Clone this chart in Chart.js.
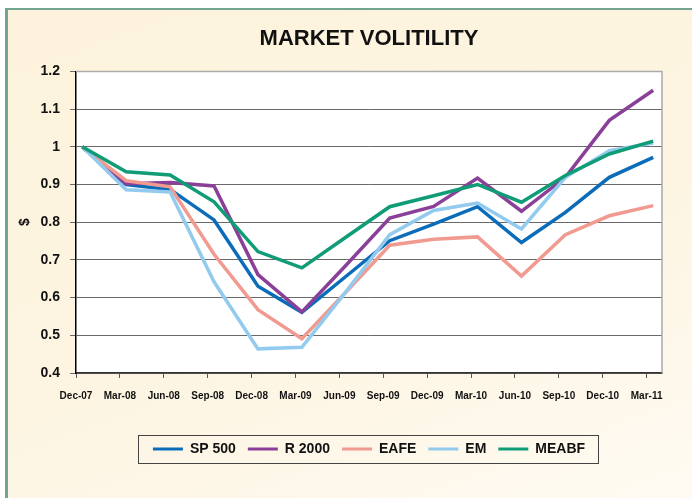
<!DOCTYPE html>
<html>
<head>
<meta charset="utf-8">
<script src="https://cdn.jsdelivr.net/npm/chart.js@4.4.1/dist/chart.umd.min.js"></script>
<style>
  html, body { margin: 0; padding: 0; background: #fff; width: 692px; height: 498px; overflow: hidden; }
  #frame {
    position: absolute; left: 5px; top: 8px; width: 700px; height: 500px;
    border-left: 3px solid #72a48f; border-top: 2px solid #72a48f;
    background: linear-gradient(160deg, #fdf3dc 0%, #fdf5e2 55%, #fffbf3 100%);
  }
  #chart { position: absolute; left: 0; top: 0; }
</style>
</head>
<body>
<div id="frame"></div>
<canvas id="chart" width="692" height="498"></canvas>
<script>
// quarterly labels
const quarters = ['Dec-07', 'Mar-08', 'Jun-08', 'Sep-08', 'Dec-08', 'Mar-09', 'Jun-09',
  'Sep-09', 'Dec-09', 'Mar-10', 'Jun-10', 'Sep-10', 'Dec-10', 'Mar-11'];

// values
const sp500 = [1.0, 0.900, 0.887, 0.806, 0.630, 0.561, 0.656, 0.751, 0.795, 0.841, 0.746, 0.826, 0.919, 0.972];
const r2000 = [1.0, 0.902, 0.905, 0.896, 0.661, 0.562, 0.685, 0.811, 0.842, 0.917, 0.829, 0.919, 1.070, 1.150];
const eafe  = [1.0, 0.910, 0.894, 0.715, 0.568, 0.491, 0.614, 0.739, 0.755, 0.761, 0.657, 0.767, 0.817, 0.844];
const em    = [1.0, 0.886, 0.880, 0.642, 0.464, 0.468, 0.615, 0.767, 0.831, 0.851, 0.782, 0.919, 0.990, 1.010];
const meabf = [1.0, 0.934, 0.925, 0.854, 0.722, 0.679, 0.760, 0.841, 0.870, 0.900, 0.853, 0.924, 0.981, 1.015];

const yTicks = [0.4, 0.5, 0.6, 0.7, 0.8, 0.9, 1, 1.1, 1.2];

const series = [
  { label: 'SP 500', values: sp500, color: '#0b6cb9', order: 5 },
  { label: 'R 2000', values: r2000, color: '#8a3f98', order: 4 },
  { label: 'EAFE',   values: eafe,  color: '#f09a90', order: 3 },
  { label: 'EM',     values: em,    color: '#93cbef', order: 2 },
  { label: 'MEABF',  values: meabf, color: '#109c76', order: 1 }
];

const FONT = "'Liberation Sans', Arial, sans-serif";

// white plot area, grey top/right edges, box round the legend
const framePlugin = {
  id: 'framePlugin',
  beforeDraw(chart) {
    const { ctx, chartArea: a } = chart;
    ctx.save();
    ctx.fillStyle = '#fff';
    ctx.fillRect(a.left, a.top, a.width, a.height);
    ctx.restore();
  },
  beforeDatasetsDraw(chart) {
    const { ctx, chartArea: a } = chart;
    ctx.save();
    ctx.strokeStyle = '#ababab';
    ctx.lineWidth = 1.5;
    ctx.beginPath();
    ctx.moveTo(a.left, a.top);
    ctx.lineTo(a.right, a.top);
    ctx.lineTo(a.right, a.bottom);
    ctx.stroke();
    ctx.restore();
  },
  afterDraw(chart) {
    const { ctx, legend } = chart;
    const boxes = legend.legendHitBoxes;
    if (!boxes || !boxes.length) return;
    const left = Math.min(...boxes.map(b => b.left)) - 15;
    const right = Math.max(...boxes.map(b => b.left + b.width)) + 13;
    const mid = boxes[0].top + boxes[0].height / 2;
    ctx.save();
    ctx.strokeStyle = '#444';
    ctx.lineWidth = 1;
    ctx.strokeRect(Math.round(left) + 0.5, Math.round(mid - 14) + 0.5, Math.round(right - left), 28);
    ctx.restore();
  }
};

new Chart(document.getElementById('chart'), {
  type: 'line',
  data: {
    datasets: series.map(s => ({
      label: s.label,
      data: s.values.map((v, i) => ({ x: i, y: v })),
      borderColor: s.color,
      backgroundColor: s.color,
      borderWidth: 3.5,
      pointRadius: 0,
      tension: 0,
      order: s.order,
      xAxisID: 'x',
      yAxisID: 'y'
    }))
  },
  options: {
    responsive: false,
    animation: false,
    devicePixelRatio: 1,
    layout: { padding: { left: 0, right: 30, top: 0, bottom: 32 } },
    plugins: {
      title: {
        display: true,
        fullSize: false,
        text: 'MARKET VOLITILITY',
        color: '#111',
        font: { family: FONT, size: 22, weight: 'bold' },
        padding: { top: 26, bottom: 19 }
      },
      legend: {
        position: 'bottom',
        fullSize: false,
        labels: {
          boxWidth: 30,
          boxHeight: 3,
          padding: 12,
          color: '#111',
          font: { family: FONT, size: 14, weight: 'bold' },
          sort: (a, b) => a.datasetIndex - b.datasetIndex,
          generateLabels: chart =>
            Chart.defaults.plugins.legend.labels.generateLabels(chart)
              .map(l => ({ ...l, fillStyle: l.strokeStyle, lineWidth: 0 }))
        }
      },
      tooltip: { enabled: false }
    },
    scales: {
      // the scale the lines sit on
      x: {
        type: 'linear',
        display: false,
        min: -0.143,
        max: 13.2
      },
      // the scale that carries the quarter labels and tick marks
      xl: {
        type: 'linear',
        position: 'bottom',
        min: 0,
        max: 13.35,
        afterFit: scale => { scale.height += 16; },
        ticks: {
          stepSize: 1,
          includeBounds: false,
          autoSkip: false,
          maxRotation: 0,
          padding: 12,
          color: '#111',
          font: { family: FONT, size: 10, weight: 'bold' },
          callback: v => quarters[v]
        },
        grid: { drawOnChartArea: false, drawTicks: true, tickLength: 5, color: '#555' },
        border: { display: true, color: '#333', width: 1.5 }
      },
      y: {
        min: 0.4,
        max: 1.2,
        afterFit: scale => { scale.width = 76; },
        afterBuildTicks: scale => { scale.ticks = yTicks.map(v => ({ value: v })); },
        ticks: {
          padding: 10,
          color: '#111',
          font: { family: FONT, size: 14, weight: 'bold' },
          callback: v => String(Math.round(v * 10) / 10)
        },
        grid: { color: '#6a6a6a', lineWidth: 1, tickLength: 6 },
        border: { display: true, color: '#000', width: 1.5 },
        title: {
          display: true,
          text: '$',
          color: '#111',
          font: { family: FONT, size: 14, weight: 'bold' },
          padding: { top: 17, bottom: 0 }
        }
      }
    }
  },
  plugins: [framePlugin]
});
</script>
</body>
</html>
